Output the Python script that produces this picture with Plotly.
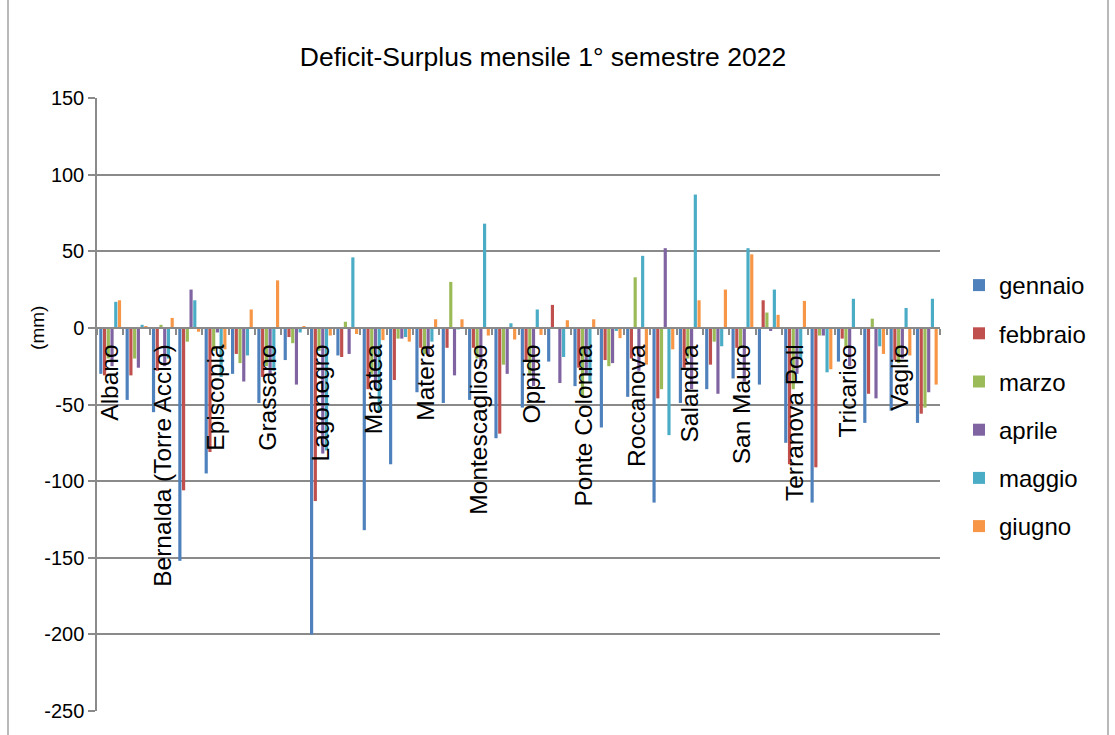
import plotly.graph_objects as go

categories = [
    "Albano", "Avigliano", "Bernalda (Torre Accio)", "Chiaromonte", "Episcopia", "Genzano",
    "Grassano", "Grottole", "Lagonegro", "Lavello", "Maratea", "Marsico Nuovo",
    "Matera", "Metaponto", "Montescaglioso", "Nova Siri", "Oppido", "Pisticci",
    "Ponte Colonna", "Potenza", "Roccanova", "Rotondella", "Salandra", "San Giorgio Lucano",
    "San Mauro", "Senise", "Terranova Poll", "Tito", "Tricarico", "Tursi", "Vaglio", "Venosa",
]

gennaio = [-30, -47, -55, -152, -95, -30, -49, -21, -200, -18, -132, -89, -42, -49, -47, -72,
           -52, -22, -38, -65, -45, -114, -49, -40, -33, -37, -75, -114, -22, -62, -54, -62]
febbraio = [-31, -31, -28, -106, -81, -17, -32, -6, -113, -19, -40, -34, -13, -13, -13, -69,
            -22, 15, -26, -21, -20, -46, -26, -24, -13, 18, -89, -91, -7, -43, -21, -56]
marzo = [-20, -20, 2, -9, -15, -23, -25, -10, -15, 4, -30, -7, -17, 30, -20, -24,
         -30, 0, -45, -25, 33, -40, -20, -9, -13, 10, -40, -5, -13, 6, -23, -52]
aprile = [-25, -26, -25, 25, -3, -35, -30, -37, -82, -17, -40, -7, -18, -31, -25, -30,
          -38, -36, -30, -23, -28, 52, -40, -43, -35, -2, -30, -5, -25, -46, -20, -42]
maggio = [17, 2, -20, 18, -32, -18, -28, -3, -80, 46, -55, -6, -9, -1, 68, 3,
          12, -19, -35, -2, 47, -70, 87, -12, 52, 25, -20, -29, 19, -12, 13, 19]
giugno = [18, 1, 6.5, -2.5, -14, 12, 31, 1, -5, -4, -8, -9, 5.6, 5.6, -5, -7.6,
          -4.6, 5, 5.6, -6.7, -24, -14, 18, 25, 48, 8.5, 17.6, -27, 0, -17, -18, -37]

series_names = ["gennaio", "febbraio", "marzo", "aprile", "maggio", "giugno"]
series_values = [gennaio, febbraio, marzo, aprile, maggio, giugno]
colors = ["#4F81BD", "#C0504D", "#9BBB59", "#8064A2", "#4BACC6", "#F79646"]

y_ticks = [150, 100, 50, 0, -50, -100, -150, -200, -250]
y_tick_text = [str(v) for v in y_ticks]

# Excel shows only every other category label
tick_text = [c if i % 2 == 0 else "" for i, c in enumerate(categories)]

FONT = "Liberation Sans"
GRID = "#8a8a8a"

fig = go.Figure()
for name, vals, col in zip(series_names, series_values, colors):
    fig.add_trace(go.Bar(
        x=categories, y=vals, name=name, marker_color=col,
        marker_line_width=0, legendgroup=name,
    ))

W, H = 1115, 735
L, R, T, B = 97, 175, 98, 24
pw, ph = W - L - R, H - T - B
ymin, ymax = -250, 150
zero_pos = (0 - ymin) / (ymax - ymin)

fig.update_layout(
    width=W, height=H,
    margin=dict(l=L, r=R, t=T, b=B, pad=0),
    paper_bgcolor="white", plot_bgcolor="white",
    barmode="group", bargap=0.15, bargroupgap=0.15,
    font=dict(family=FONT, color="black", size=21),
    title=dict(text="Deficit-Surplus mensile 1° semestre 2022",
               x=543 / W, xanchor="center", xref="container",
               y=1 - 57 / H, yanchor="middle", yref="container",
               font=dict(size=26.5, family=FONT, color="black")),
    legend=dict(x=959 / W, xref="container", xanchor="left",
                y=1 - 406 / H, yref="container", yanchor="middle",
                traceorder="grouped", tracegroupgap=14,
                font=dict(size=24, family=FONT), bgcolor="rgba(0,0,0,0)"),
    xaxis=dict(
        type="category", tickmode="array", tickvals=categories, ticktext=tick_text,
        tickangle=-90, tickson="boundaries", ticks="outside", ticklen=6,
        tickcolor=GRID, tickwidth=1.5, ticklabelstandoff=6,
        anchor="free", position=zero_pos,
        showline=True, linecolor=GRID, linewidth=1.5, showgrid=False,
        tickfont=dict(size=24.5, family=FONT, color="black"),
    ),
    yaxis=dict(
        range=[ymin, ymax], tickmode="array", tickvals=y_ticks, ticktext=y_tick_text,
        showgrid=True, gridcolor=GRID, gridwidth=1.5,
        zeroline=False, showline=True, linecolor=GRID, linewidth=1.5,
        ticks="outside", ticklen=7, tickcolor=GRID, tickwidth=1.5,
        tickfont=dict(size=20, family=FONT, color="black"),
    ),
    annotations=[dict(text="(mm)", textangle=-90, x=(38 - L) / pw, xref="paper",
                      xanchor="center", yanchor="middle",
                      y=0, yref="y", showarrow=False,
                      font=dict(size=19, family=FONT, color="black"))],
    shapes=[
        dict(type="line", xref="paper", yref="paper",
             x0=(8 - L) / pw, x1=(8 - L) / pw, y0=-(B + 5) / ph, y1=(ph + T + 5) / ph,
             line=dict(color=GRID, width=1.2)),
        dict(type="line", xref="paper", yref="paper",
             x0=(1108 - L) / pw, x1=(1108 - L) / pw, y0=-(B + 5) / ph, y1=(ph + T + 5) / ph,
             line=dict(color=GRID, width=1.2)),
    ],
)

fig.write_html("out.html")
